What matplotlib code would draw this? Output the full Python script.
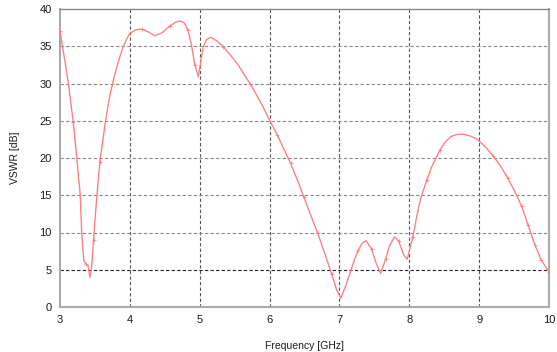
import matplotlib
matplotlib.use("Agg")
import matplotlib.pyplot as plt

plt.rcParams['font.family'] = ['Liberation Sans', 'DejaVu Sans']

# Frequency sweep (GHz) and VSWR (dB)
freq = [3.00, 3.06, 3.12, 3.19, 3.25, 3.29, 3.31, 3.34, 3.37, 3.40, 3.43, 3.45,
        3.48, 3.52, 3.57, 3.64, 3.70, 3.75, 3.79, 3.85, 3.90, 3.95, 4.00, 4.08,
        4.17, 4.27, 4.36, 4.46, 4.57, 4.65, 4.72, 4.78, 4.83, 4.88, 4.93, 4.98,
        5.02, 5.05, 5.10, 5.16, 5.25, 5.34, 5.45, 5.55, 5.65, 5.72, 5.80, 5.90,
        6.00, 6.11, 6.20, 6.30, 6.40, 6.49, 6.59, 6.69, 6.79, 6.89, 6.96, 7.02,
        7.08, 7.15, 7.21, 7.27, 7.33, 7.38, 7.46, 7.52, 7.59, 7.66, 7.72, 7.79,
        7.85, 7.92, 7.97, 8.05, 8.11, 8.17, 8.25, 8.32, 8.44, 8.52, 8.60, 8.68,
        8.77, 8.86, 8.96, 9.08, 9.20, 9.30, 9.41, 9.51, 9.61, 9.70, 9.80, 9.89,
        10.00]
vswr = [37.0, 33.6, 30.0, 24.8, 19.0, 15.0, 10.0, 6.3, 5.8, 5.6, 4.0, 5.0,
        9.0, 14.0, 19.5, 24.2, 27.7, 29.9, 31.4, 33.4, 34.8, 35.9, 36.7, 37.2,
        37.3, 36.9, 36.4, 36.8, 37.7, 38.2, 38.4, 38.1, 37.2, 35.3, 32.5, 30.9,
        33.2, 34.9, 35.9, 36.2, 35.7, 34.9, 33.7, 32.5, 31.0, 30.0, 28.7, 27.0,
        25.1, 23.1, 21.3, 19.3, 17.0, 14.8, 12.3, 9.9, 7.2, 4.4, 2.3, 1.2,
        2.6, 4.5, 6.2, 7.65, 8.6, 8.9, 7.8, 6.0, 4.5, 6.4, 8.3, 9.4,
        8.8, 7.0, 6.4, 9.4, 12.3, 14.8, 17.0, 18.8, 21.1, 22.2, 22.9, 23.15,
        23.2, 23.0, 22.6, 21.6, 20.3, 19.0, 17.3, 15.5, 13.5, 11.0, 8.3, 6.3,
        4.7]

# Frequencies where the simulator sample points are marked
sample_freq = [3.00, 3.19, 3.37, 3.48, 3.57, 3.75, 4.17, 4.57, 4.83, 4.93,
               5.34, 5.72, 6.11, 6.30, 6.49, 6.69, 6.89, 7.27, 7.46, 7.66,
               7.85, 8.05, 8.25, 8.44, 9.20, 9.41, 9.61, 9.70, 9.80, 9.89, 10.00]

x_ticks = [3, 4, 5, 6, 7, 8, 9, 10]
y_ticks = [0, 5, 10, 15, 20, 25, 30, 35, 40]

fig = plt.figure(figsize=(5.57, 3.52), dpi=100)
ax = fig.add_axes([60 / 557, 45 / 352, 489 / 557, 298 / 352])

# dashed grid
for xv in x_ticks[1:-1]:
    ax.axvline(xv, color='#555555', lw=0.8, ls=(0, (3, 2)), zorder=1)
for yv in y_ticks[1:-1]:
    c = '#222222' if yv == 5 else '#888888'
    ax.axhline(yv, color=c, lw=0.8, ls=(0, (3, 2)), zorder=1)

mark_idx = [i for i, f in enumerate(freq) if f in sample_freq]
ax.plot(freq, vswr, color='#ff8080', lw=1.0, marker='+', ms=3, mew=0.6,
        markevery=mark_idx, zorder=3)

ax.set_xlim(3, 10)
ax.set_ylim(0, 40)
ax.set_xticks(x_ticks)
ax.set_yticks(y_ticks)
ax.tick_params(length=0, labelsize=8, colors='#1a1a1a', pad=6)

for side in ['left', 'bottom', 'right']:
    ax.spines[side].set_color('#aaaaaa')
    ax.spines[side].set_linewidth(1.5)
ax.spines['top'].set_color('#888888')
ax.spines['top'].set_linewidth(1.0)

ax.set_xlabel('Frequency [GHz]', fontsize=7.5, color='#1a1a1a', labelpad=11)
ax.set_ylabel('VSWR [dB]', fontsize=7.5, color='#1a1a1a', labelpad=14)

fig.savefig('out.png', dpi=100)
